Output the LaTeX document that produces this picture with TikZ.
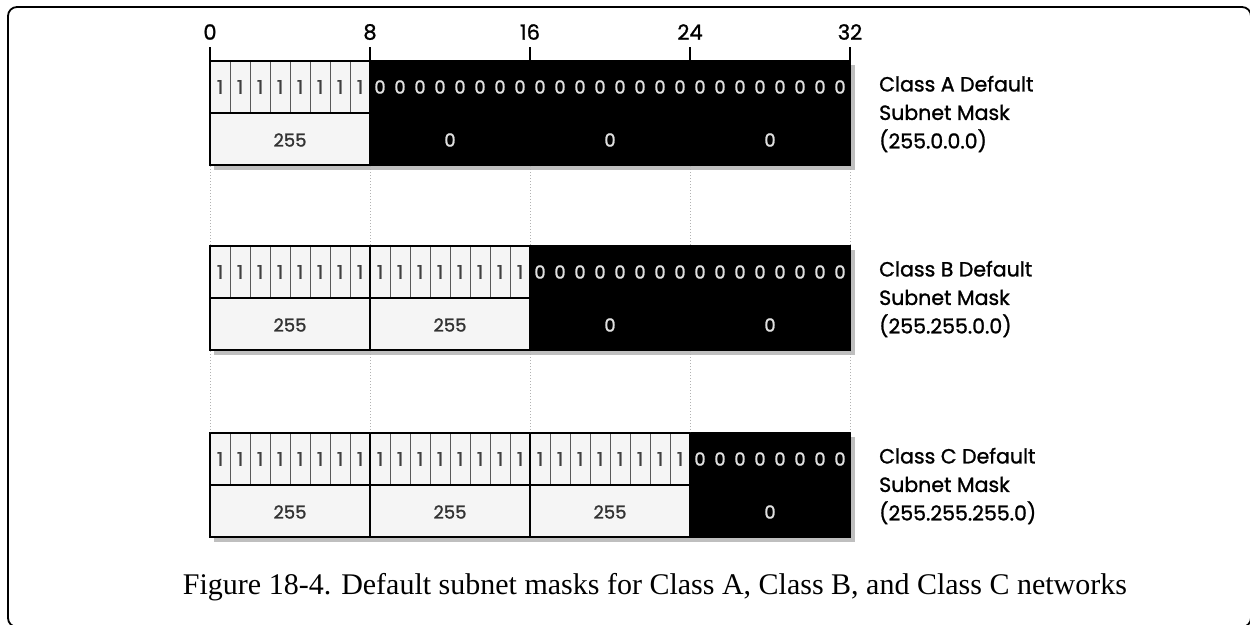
\documentclass[tikz,border=0pt]{standalone}
\usepackage{fontspec}
\setmainfont{Liberation Serif}
\newfontfamily\maskfont[FakeBold=1.2]{Poppins}
\usepackage{tikz}

\tikzset{
  lightcell/.style={fill=black!4},
  bitline/.style={draw=black!65, line width=0.8pt},
  byteline/.style={draw=black, line width=1.3pt},
  onebit/.style={text=black!75, inner sep=0pt, font=\maskfont\fontsize{19}{19}\selectfont},
  zerobit/.style={text=black!12, inner sep=0pt, font=\maskfont\fontsize{18}{18}\selectfont},
  bytevalue/.style={inner sep=0pt, font=\maskfont\fontsize{18}{18}\selectfont},
  ticklabel/.style={inner sep=0pt, font=\maskfont\fontsize{21}{21}\selectfont},
  guide/.style={draw=black!30, line width=1pt, dotted},
  masklabel/.style={anchor=west, align=left, inner sep=0pt, font=\maskfont\fontsize{20.5}{28.5}\selectfont}
}

\begin{document}
\begin{tikzpicture}[x=1pt,y=-1pt]
    \useasboundingbox (0,0) rectangle (1250,624);
    \fill[white] (0,0) rectangle (1250,624);

    % frame
    \draw[line width=1.8pt, rounded corners=9pt] (8,7) rectangle (1251,627);

    % bit positions above the first bar
    \foreach \b in {0,8,16,24,32}{
        \node[ticklabel] (tick\b) at (210+20*\b,32) {\b};
        \draw[line width=1.8pt] (210+20*\b,47) -- (210+20*\b,61);
    }

    % the three masks
    \foreach \row/\ytop/\nbytes/\mask in {A/61/1/{255.0.0.0}, B/246/2/{255.255.0.0}, C/433/3/{255.255.255.0}}{
        \pgfmathtruncatemacro\nones{8*\nbytes}
        \pgfmathtruncatemacro\lastone{8*\nbytes-1}
        \pgfmathtruncatemacro\split{210+160*\nbytes}

        \fill[black!25] (214,\ytop+4) rectangle (855,\ytop+109);
        \fill[lightcell] (210,\ytop) rectangle (\split,\ytop+104);
        \fill[black] (\split,\ytop) rectangle (850,\ytop+104);

        \foreach \b in {1,...,\lastone}
            \draw[bitline] (210+20*\b,\ytop) -- (210+20*\b,\ytop+52);
        \foreach \b in {0,...,\lastone}
            \node[onebit] (one\row\b) at (220+20*\b,\ytop+26) {1};
        \foreach \b in {\nones,...,31}
            \node[zerobit] (zero\row\b) at (220+20*\b,\ytop+26) {0};

        \draw[byteline] (210,\ytop+52) -- (\split,\ytop+52);
        \foreach \k in {1,...,\nbytes}{
            \draw[byteline] (210+160*\k,\ytop) -- (210+160*\k,\ytop+104);
            \node[bytevalue, text=black!80] (byte\row\k) at (130+160*\k,\ytop+79) {255};
        }
        \foreach \k in {\nbytes,...,3}
            \node[bytevalue, text=black!12] (nil\row\k) at (290+160*\k,\ytop+79) {0};

        \draw[line width=1.8pt] (210,\ytop) rectangle (850,\ytop+104);

        \node[masklabel] (label\row) at (879,\ytop+53)
            {Class \row{} Default\\Subnet Mask\\(\mask)};
    }

    % dotted guides between the bars
    \foreach \b in {0,8,16,24,32}{
        \draw[guide] (210+20*\b,166) -- (210+20*\b,245);
        \draw[guide] (210+20*\b,351) -- (210+20*\b,432);
    }

    \node[font=\fontsize{30}{32}\selectfont] (caption) at (655,587)
        {Figure 18-4. Default subnet masks for Class A, Class B, and Class C networks};
\end{tikzpicture}
\end{document}
